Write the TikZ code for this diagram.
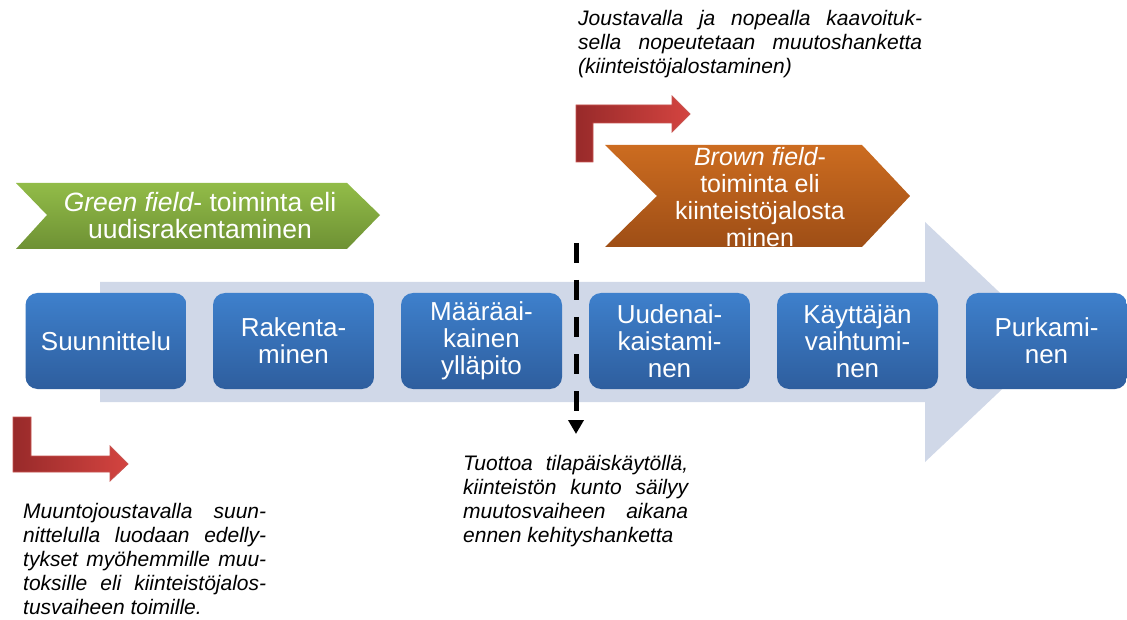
\documentclass[tikz,border=0pt]{standalone}
\usepackage{fontspec}
\setmainfont{Liberation Sans}
\usetikzlibrary{arrows.meta}

\definecolor{bgarrow}{RGB}{208,216,232}
\definecolor{boxtop}{RGB}{62,128,204}
\definecolor{boxbot}{RGB}{46,94,158}
\definecolor{greentop}{RGB}{146,188,72}
\definecolor{greenbot}{RGB}{110,145,52}
\definecolor{browntop}{RGB}{204,108,32}
\definecolor{brownbot}{RGB}{158,78,22}
\definecolor{redleft}{RGB}{152,42,42}
\definecolor{redright}{RGB}{212,68,64}
\definecolor{redline}{RGB}{200,84,80}

\begin{document}
\begin{tikzpicture}
  [x=1pt,y=-1pt,
   phase/.style={rounded corners=12pt,top color=boxtop,bottom color=boxbot,text=white,
     minimum width=161pt,minimum height=96pt,inner sep=0pt,align=center,
     font=\fontsize{26}{27}\selectfont},
   banner/.style={text=white,align=center,inner sep=0pt},
   note/.style={anchor=north west,inner sep=0pt,align=justify,
     font=\fontsize{21}{24}\selectfont\itshape},
   turn/.style={left color=redleft,right color=redright,draw=redline,line width=0.8pt}]
  \useasboundingbox (0,0) rectangle (1127,620);
  \fill[white] (0,0) rectangle (1127,620);

  % big arrow behind the phases
  \fill[bgarrow] (100,282) -- (925,282) -- (925,222) -- (1052,342) -- (925,462)
    -- (925,402) -- (100,402) -- cycle;

  % phases
  \node[phase] (suun) at (106,341) {Suunnittelu};
  \node[phase] (rak) at (293.5,341) {Rakenta-\\minen};
  \node[phase] (yll) at (481.5,341) {Määräai-\\kainen\\ylläpito};
  \node[phase] (uud) at (669.5,341) {Uudenai-\\kaistami-\\nen};
  \node[phase] (kay) at (857.5,341) {Käyttäjän\\vaihtumi-\\nen};
  \node[phase] (purk) at (1046.5,341) {Purkami-\\nen};

  % dashed divider
  \coordinate (dtop) at (576,243);
  \coordinate (dbot) at (576,434);
  \draw[line width=5pt,dash pattern=on 20pt off 17pt,
    -{Triangle[length=14pt,width=15pt]}] (dtop) -- (dbot);

  % green field and brown field
  \shade[top color=greentop,bottom color=greenbot] (16,183) -- (347,183) -- (380,215)
    -- (347,249) -- (16,249) -- (47,215) -- cycle;
  \node[banner,font=\fontsize{26.5}{27}\selectfont] (green) at (200,216)
    {{\itshape Green field}- toiminta eli\\uudisrakentaminen};
  \shade[top color=browntop,bottom color=brownbot] (605,145) -- (862,145) -- (910,196)
    -- (862,247) -- (605,247) -- (657,196) -- cycle;
  \node[banner,font=\fontsize{25}{27}\selectfont] (brown) at (760,197)
    {{\itshape Brown field}-\\toiminta eli\\kiinteistöjalosta\\minen};

  % bent arrows
  \shade[turn] (576,162) -- (576,105) -- (672,105) -- (672,96) -- (690,114) -- (672,132)
    -- (672,123) -- (593,123) -- (593,162) -- cycle;
  \shade[turn] (13,417) -- (31,417) -- (31,456) -- (110,456) -- (110,446) -- (128,464)
    -- (110,481) -- (110,472) -- (13,472) -- cycle;

  % notes
  \node[note,text width=344pt] (topnote) at (578,10)
    {Joustavalla ja nopealla kaavoituk-\linebreak sella nopeutetaan muutoshanketta\linebreak (kiinteistöjalostaminen)};
  \node[note,text width=243pt] (leftnote) at (23,503)
    {Muuntojoustavalla suun-\linebreak nittelulla luodaan edelly-\linebreak tykset myöhemmille muu-\linebreak toksille eli kiinteistöjalos-\linebreak tusvaiheen toimille.};
  \node[note,text width=225pt] (midnote) at (463,455)
    {Tuottoa tilapäiskäytöllä,\linebreak kiinteistön kunto säilyy\linebreak muutosvaiheen aikana\linebreak ennen kehityshanketta};
\end{tikzpicture}
\end{document}
